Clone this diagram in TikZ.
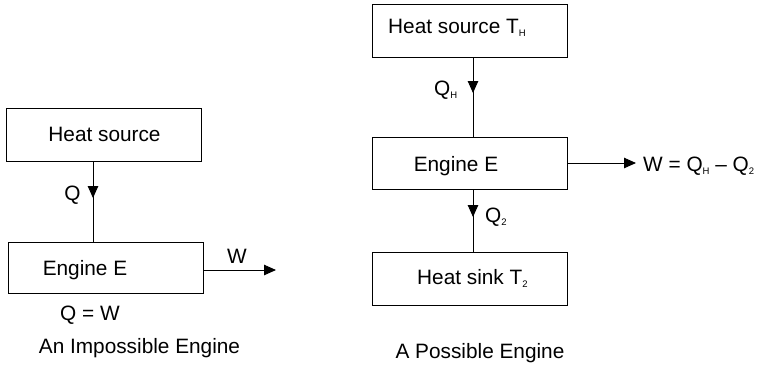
\documentclass[tikz,border=0pt]{standalone}
\usepackage{fontspec}
\setmainfont{Liberation Sans}
\usetikzlibrary{arrows.meta}
\newcommand{\sbs}[1]{\raisebox{-0.35ex}{\fontsize{9.5}{10}\selectfont #1}}
\begin{document}
\begin{tikzpicture}[x=1pt,y=-1pt,
  box/.style={draw,line width=1pt,minimum width=195pt,inner sep=0pt},
  txt/.style={inner sep=0pt,font=\fontsize{20.8}{24}\selectfont},
  conn/.style={line width=0.9pt},
  arr/.style={line width=0.9pt,-{Triangle[length=12pt,width=10.5pt]}}]
\useasboundingbox (0,0) rectangle (760,365);
% left diagram
\node[box,minimum height=53pt] (hsL) at (103.5,134.5) {};
\node[box,minimum height=51pt] (engL) at (105.5,267.5) {};
\node[txt,anchor=base] (thsL) at (104.5,141) {Heat source};
\node[txt,anchor=base] (tengL) at (85,275) {Engine E};
\coordinate (tipL) at (93,198);
\draw[conn] (hsL.south -| tipL) -- (engL.north -| tipL);
\draw[arr] (hsL.south -| tipL) -- (tipL);
\node[txt,anchor=base] (qL) at (72.5,200) {Q};
\coordinate (tipWL) at (276,270);
\draw[arr] (engL.east |- tipWL) -- (tipWL);
\node[txt,anchor=base] (wL) at (237,263) {W};
\node[txt,anchor=base] (qwL) at (90,320) {Q = W};
\node[txt,anchor=base] (capL) at (139.5,353) {An Impossible Engine};
% right diagram
\node[box,minimum height=53pt] (hsR) at (469.5,30.5) {};
\node[box,minimum height=52pt] (engR) at (469.5,163) {};
\node[box,minimum height=53pt] (sinkR) at (469.5,278.5) {};
\node[txt,anchor=base west] (thsR) at (388,33) {Heat source T\sbs{H}};
\node[txt,anchor=base] (tengR) at (456,171) {Engine E};
\node[txt,anchor=base west] (tsinkR) at (417,284) {Heat sink T\sbs{2}};
\coordinate (tipR1) at (473,93);
\draw[conn] (hsR.south -| tipR1) -- (engR.north -| tipR1);
\draw[arr] (hsR.south -| tipR1) -- (tipR1);
\node[txt,anchor=base west] (qH) at (434,95) {Q\sbs{H}};
\coordinate (tipR2) at (473,217);
\draw[conn] (engR.south -| tipR2) -- (sinkR.north -| tipR2);
\draw[arr] (engR.south -| tipR2) -- (tipR2);
\node[txt,anchor=base west] (q2) at (485,222) {Q\sbs{2}};
\coordinate (tipWR) at (636,163);
\draw[arr] (engR.east |- tipWR) -- (tipWR);
\node[txt,anchor=base west] (wR) at (643,171) {W = Q\sbs{H} – Q\sbs{2}};
\node[txt,anchor=base] (capR) at (480,358) {A Possible Engine};
\end{tikzpicture}
\end{document}
